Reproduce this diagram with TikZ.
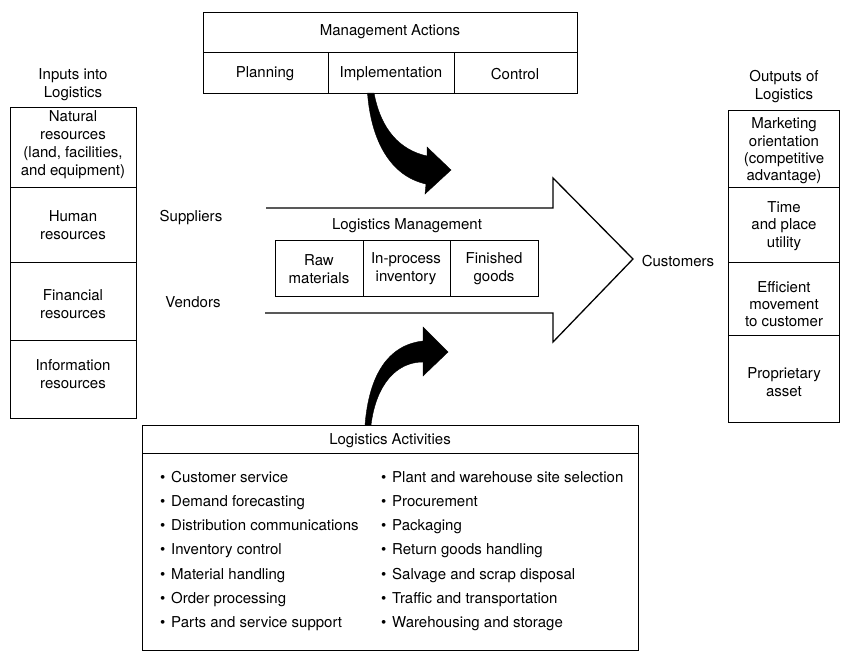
\documentclass[tikz,border=0pt]{standalone}
\usepackage{fontspec}
\setmainfont{TeX Gyre Heros}
\begin{document}
\begin{tikzpicture}[x=1pt,y=-1pt,
  lw/.style={line width=1.3pt},
  cellbox/.style={draw, lw, inner sep=0pt, anchor=north west},
  txt/.style={inner sep=0pt, align=center, font=\fontsize{15}{18}\selectfont},
  txtr/.style={inner sep=0pt, align=center, font=\fontsize{15}{17.3}\selectfont},
  item/.style={inner sep=0pt, anchor=base west, font=\fontsize{15}{18}\selectfont},
  fatarrow/.style={fill=black, draw=black, line width=0.4pt}]
\useasboundingbox (0,0) rectangle (841,665);

% ---------- Inputs column ----------
\node[txt] (intitle) at (73,85) {Inputs into\\Logistics};
\node[cellbox, minimum width=126, minimum height=80] (in1) at (10,107) {};
\node[cellbox, minimum width=126, minimum height=75] (in2) at (10,187) {};
\node[cellbox, minimum width=126, minimum height=78] (in3) at (10,262) {};
\node[cellbox, minimum width=126, minimum height=78] (in4) at (10,340) {};
\node[txt] (in1t) at (73,145) {Natural\\resources\\(land, facilities,\\and equipment)};
\node[txt] (in2t) at (73,225) {Human\\resources};
\node[txt] (in3t) at (73,304) {Financial\\resources};
\node[txt] (in4t) at (73,374) {Information\\resources};

% ---------- Outputs column ----------
\node[txt] (outtitle) at (784,87) {Outputs of\\Logistics};
\node[cellbox, minimum width=111, minimum height=77] (out1) at (728,110) {};
\node[cellbox, minimum width=111, minimum height=75] (out2) at (728,187) {};
\node[cellbox, minimum width=111, minimum height=73] (out3) at (728,262) {};
\node[cellbox, minimum width=111, minimum height=87] (out4) at (728,335) {};
\node[txtr] (out1t) at (784,151) {Marketing\\orientation\\(competitive\\advantage)};
\node[txtr] (out2t) at (784,226) {Time\\and place\\utility};
\node[txtr] (out3t) at (784,304) {Efficient\\movement\\to customer};
\node[txtr] (out4t) at (784,382) {Proprietary\\asset};

% ---------- Management Actions ----------
\node[cellbox, minimum width=374, minimum height=40] (mahead) at (203,12) {};
\node[cellbox, minimum width=125, minimum height=41] (plan) at (203,52) {};
\node[cellbox, minimum width=126, minimum height=41] (impl) at (328,52) {};
\node[cellbox, minimum width=123, minimum height=41] (ctrl) at (454,52) {};
\node[txt] (mat) at (390,32) {Management\hspace{0.25em}Actions};
\node[txt] (plant) at (265,74) {Planning};
\node[txt] (implt) at (391,74) {Implementation};
\node[txt] (ctrlt) at (515,74) {Control};

% ---------- Big arrow ----------
\coordinate (s1) at (266,208);
\coordinate (s2) at (553,208);
\coordinate (h1) at (553,178);
\coordinate (tip) at (633,259);
\coordinate (h2) at (553,342);
\coordinate (s3) at (553,313);
\coordinate (s4) at (265,313);
\draw[lw, line join=miter] (s1) -- (s2) -- (h1) -- (tip) -- (h2) -- (s3) -- (s4);

\node[txt] (lmt) at (407,226) {Logistics Management};
\node[cellbox, minimum width=88, minimum height=56] (raw) at (275,240) {};
\node[cellbox, minimum width=87, minimum height=56] (inproc) at (363,240) {};
\node[cellbox, minimum width=88, minimum height=56] (fin) at (450,240) {};
\node[txt] (rawt) at (319,269) {Raw\\materials};
\node[txt] (inproct) at (406,269) {In-process\\inventory};
\node[txt] (fint) at (494,269) {Finished\\goods};

\node[txt] (sup) at (191,218) {Suppliers};
\node[txt] (ven) at (193,302) {Vendors};
\node[txt] (cus) at (678,261) {Customers};

% ---------- Logistics Activities ----------
\node[cellbox, minimum width=496, minimum height=28] (lahead) at (142,425) {};
\node[cellbox, minimum width=496, minimum height=197] (labody) at (142,453) {};
\node[txt] (lat) at (390,441) {Logistics Activities};
\foreach \t [count=\i] in {Customer service, Demand forecasting, Distribution communications, Inventory control, Material handling, Order processing, Parts and service support}
  \node[item] (la\i) at (160,{482+24.25*(\i-1)}) {\makebox[11pt][l]{\textbullet}\t};
\foreach \t [count=\i] in {Plant and warehouse site selection, Procurement, Packaging, Return goods handling, Salvage and scrap disposal, Traffic and transportation, Warehousing and storage}
  \node[item] (ra\i) at (381,{482+24.25*(\i-1)}) {\makebox[11pt][l]{\textbullet}\t};

% ---------- Curved arrow from Management Actions ----------
\coordinate (ua) at (367.5,93);
\coordinate (ub) at (374,93);
\fill[fatarrow] (ua) .. controls (371,140) and (390,176) .. (426,184)
  -- (425,194) -- (451,170) -- (427,147) -- (427,156)
  .. controls (400,150) and (381,130) .. (ub) -- cycle;

% ---------- Curved arrow from Logistics Activities ----------
\coordinate (la) at (365,425);
\coordinate (lb) at (371,425);
\fill[fatarrow] (la) .. controls (369,375) and (388,345) .. (423,341)
  -- (423,327) -- (448,352) -- (423,376) -- (423,362)
  .. controls (396,362) and (376,385) .. (lb) -- cycle;
\end{tikzpicture}
\end{document}
